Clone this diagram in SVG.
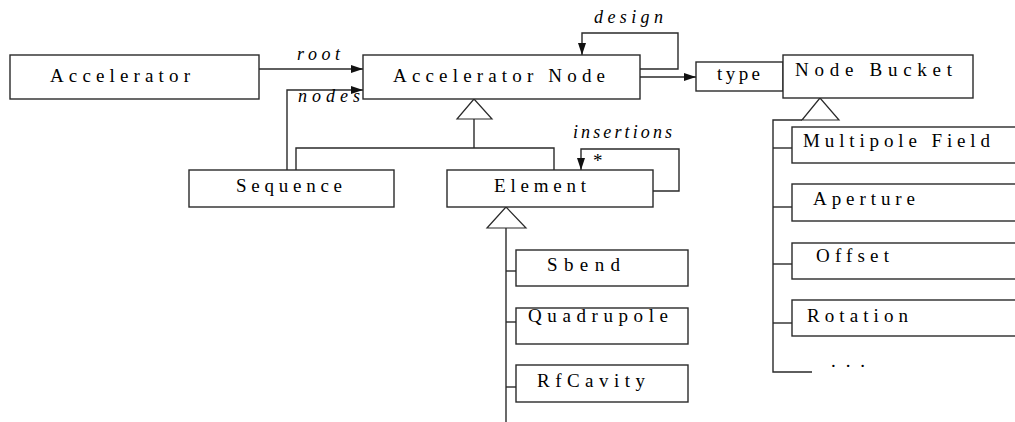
<svg xmlns="http://www.w3.org/2000/svg" width="1015" height="422" viewBox="0 0 1015 422">
  <style>
    .box { fill: #fff; stroke: #2a2a2a; stroke-width: 1.4; }
    .ln { fill: none; stroke: #2a2a2a; stroke-width: 1.4; }
    .tri { fill: #fff; stroke: #2a2a2a; stroke-width: 1.2; }
    .lbl { font-family: "Liberation Serif", "Times New Roman", serif; font-size: 19px; fill: #000; }
    .role { font-family: "Liberation Serif", "Times New Roman", serif; font-size: 18px; font-style: italic; fill: #000; }
  </style>
  <defs>
    <marker id="arr" markerWidth="12" markerHeight="8" refX="12" refY="4" orient="auto" markerUnits="userSpaceOnUse">
      <path d="M0,0 L12,4 L0,8 Z" fill="#111"/>
    </marker>
  </defs>
  <rect width="1015" height="422" fill="#fff"/>

  <!-- connectors -->
  <g id="connectors">
    <!-- root -->
    <line class="ln" x1="259" y1="69" x2="363" y2="69" marker-end="url(#arr)"/>
    <text class="role" x="297" y="60" textLength="43" lengthAdjust="spacing">root</text>
    <!-- nodes -->
    <polyline class="ln" points="287,170 287,90 363,90" marker-end="url(#arr)"/>
    <text class="role" x="298" y="102" textLength="62" lengthAdjust="spacing">nodes</text>
    <!-- design self-association -->
    <polyline class="ln" points="640,69 678,69 678,33 582,33 582,55" marker-end="url(#arr)"/>
    <text class="role" x="594" y="23" textLength="69" lengthAdjust="spacing">design</text>
    <!-- type qualifier -->
    <line class="ln" x1="640" y1="77" x2="696" y2="77" marker-end="url(#arr)"/>
    <!-- insertions self-association -->
    <polyline class="ln" points="653,191 679,191 679,149 581,149 581,170" marker-end="url(#arr)"/>
    <text class="role" x="573" y="138" textLength="99" lengthAdjust="spacing">insertions</text>
    <text class="lbl" x="593" y="167" font-size="17">*</text>

    <!-- generalization: Accelerator Node -->
    <polygon class="tri" points="474,99 457,119 492,119"/>
    <polyline class="ln" points="474,119 474,148"/>
    <polyline class="ln" points="296,170 296,148 554,148 554,170"/>

    <!-- generalization: Element -->
    <polygon class="tri" points="506,207 487,228 526,228"/>
    <line class="ln" x1="506" y1="228" x2="506" y2="422"/>
    <line class="ln" x1="506" y1="271" x2="516" y2="271"/>
    <line class="ln" x1="506" y1="322" x2="516" y2="322"/>
    <line class="ln" x1="506" y1="387" x2="516" y2="387"/>

    <!-- generalization: Node Bucket -->
    <polygon class="tri" points="820,98 802,120 839,120"/>
    <polyline class="ln" points="802,120 773,120 773,372 812,372"/>
    <line class="ln" x1="773" y1="148" x2="792" y2="148"/>
    <line class="ln" x1="773" y1="207" x2="792" y2="207"/>
    <line class="ln" x1="773" y1="264" x2="792" y2="264"/>
    <line class="ln" x1="773" y1="323" x2="792" y2="323"/>
  </g>

  <g id="accelerator">
    <rect class="box" x="10" y="55" width="249" height="44"/>
    <text class="lbl" x="50" y="82" textLength="140" lengthAdjust="spacing">Accelerator</text>
  </g>
  <g id="accelerator-node">
    <rect class="box" x="363" y="55" width="277" height="44"/>
    <text class="lbl" x="393" y="82" textLength="212" lengthAdjust="spacing">Accelerator Node</text>
  </g>
  <g id="type">
    <rect class="box" x="696" y="62" width="87" height="29"/>
    <text class="lbl" x="717" y="80" font-size="18" textLength="43" lengthAdjust="spacing">type</text>
  </g>
  <g id="node-bucket">
    <rect class="box" x="783" y="55" width="190" height="43"/>
    <text class="lbl" x="795" y="75.5" textLength="157" lengthAdjust="spacing">Node Bucket</text>
  </g>
  <g id="sequence">
    <rect class="box" x="189" y="170" width="205" height="37"/>
    <text class="lbl" x="236" y="192" textLength="106" lengthAdjust="spacing">Sequence</text>
  </g>
  <g id="element">
    <rect class="box" x="447" y="170" width="206" height="37"/>
    <text class="lbl" x="494" y="192" textLength="92" lengthAdjust="spacing">Element</text>
  </g>
  <g id="sbend">
    <rect class="box" x="516" y="250" width="172" height="36"/>
    <text class="lbl" x="547" y="271" textLength="73" lengthAdjust="spacing">Sbend</text>
  </g>
  <g id="quadrupole">
    <rect class="box" x="516" y="308" width="172" height="36"/>
    <text class="lbl" x="528" y="322" textLength="140" lengthAdjust="spacing">Quadrupole</text>
  </g>
  <g id="rfcavity">
    <rect class="box" x="516" y="365" width="172" height="37"/>
    <text class="lbl" x="537" y="387" textLength="108" lengthAdjust="spacing">RfCavity</text>
  </g>
  <g id="multipole-field">
    <rect class="box" x="792" y="127" width="230" height="36"/>
    <text class="lbl" x="803" y="147" textLength="187" lengthAdjust="spacing">Multipole Field</text>
  </g>
  <g id="aperture">
    <rect class="box" x="792" y="184" width="230" height="37"/>
    <text class="lbl" x="813" y="205" textLength="102" lengthAdjust="spacing">Aperture</text>
  </g>
  <g id="offset">
    <rect class="box" x="792" y="243" width="230" height="36"/>
    <text class="lbl" x="816" y="262" textLength="73" lengthAdjust="spacing">Offset</text>
  </g>
  <g id="rotation">
    <rect class="box" x="792" y="300" width="230" height="36"/>
    <text class="lbl" x="807" y="322" textLength="101" lengthAdjust="spacing">Rotation</text>
  </g>
  <g id="more">
    <text class="lbl" x="831" y="367" textLength="34" lengthAdjust="spacing">...</text>
  </g>
</svg>
